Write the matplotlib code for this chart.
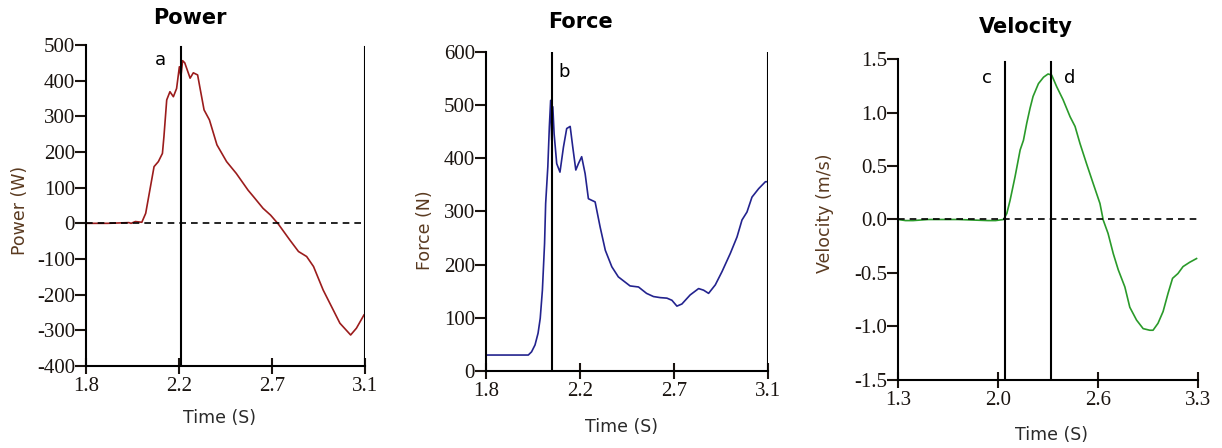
import matplotlib
matplotlib.use('Agg')
import matplotlib.pyplot as plt
import numpy as np

# Power curve (time s, watts)
power_t = [1.80, 1.90, 2.00, 2.01, 2.03, 2.06, 2.078, 2.106, 2.117, 2.137, 2.156, 2.163,
           2.176, 2.191, 2.207, 2.222, 2.235, 2.242, 2.25, 2.26, 2.285, 2.30, 2.32, 2.33,
           2.35, 2.375, 2.41, 2.455, 2.50, 2.555, 2.58, 2.625, 2.66, 2.696, 2.75, 2.79,
           2.828, 2.86, 2.905, 2.952, 2.983, 3.033, 3.06, 3.095]
power_w = [0, 0, 2, 0, 5, 3, 28, 122, 159, 173, 196, 243,
           346, 369, 355, 378, 439, 411, 456, 450, 407, 422, 416, 383,
           318, 290, 220, 173, 140, 93, 75, 42, 23, -2, -47, -79,
           -93, -121, -187, -243, -280, -313, -294, -257]

# Force curve (time s, newtons)
force_t = [1.80, 1.90, 1.995, 2.01, 2.026, 2.04, 2.05, 2.06, 2.07, 2.075, 2.085, 2.092,
           2.098, 2.103, 2.108, 2.114, 2.126, 2.141, 2.157, 2.172, 2.188, 2.20, 2.214,
           2.226, 2.241, 2.257, 2.272, 2.303, 2.326, 2.35, 2.38, 2.41, 2.464, 2.503,
           2.54, 2.572, 2.603, 2.634, 2.657, 2.68, 2.703, 2.741, 2.78, 2.803, 2.826,
           2.857, 2.888, 2.926, 2.957, 2.98, 3.003, 3.026, 3.057, 3.088, 3.10]
force_n = [30, 30, 30, 36, 49, 71, 99, 152, 240, 315, 384, 459,
           509, 434, 497, 446, 390, 374, 421, 456, 460, 421, 378,
           390, 403, 371, 324, 318, 271, 227, 196, 177, 160, 158,
           146, 140, 138, 137, 133, 122, 126, 143, 155, 152, 146,
           162, 187, 221, 252, 284, 299, 327, 343, 356, 356]

# Velocity curve (time s, m/s)
vel_t = [1.30, 1.35, 1.40, 1.50, 1.70, 1.90, 1.95, 2.003, 2.025, 2.047, 2.08, 2.114,
         2.136, 2.158, 2.18, 2.20, 2.236, 2.27, 2.30, 2.324, 2.358, 2.40, 2.447, 2.48,
         2.513, 2.557, 2.60, 2.646, 2.668, 2.70, 2.735, 2.768, 2.812, 2.845, 2.89,
         2.934, 2.978, 3.00, 3.033, 3.067, 3.10, 3.13, 3.166, 3.20, 3.244, 3.29]
vel_ms = [0.0, -0.01, -0.01, 0.0, 0.0, -0.01, -0.01, 0.0, 0.056, 0.18, 0.40, 0.65,
          0.74, 0.90, 1.04, 1.15, 1.27, 1.33, 1.36, 1.35, 1.24, 1.12, 0.96, 0.87,
          0.71, 0.52, 0.34, 0.15, -0.006, -0.13, -0.32, -0.47, -0.63, -0.82, -0.94,
          -1.02, -1.035, -1.035, -0.97, -0.86, -0.69, -0.55, -0.505, -0.44, -0.40, -0.365]

power_marks = [2.243, 3.1]
force_marks = [2.106, 3.1]
vel_marks = [2.01, 2.32]

serif = 'Liberation Serif'
label_col = '#5a3a20'


def style_axes(ax, xmin, xmax, ymin, ymax, yticks, yfmt):
    ax.set_xlim(xmin, xmax)
    ax.set_ylim(ymin, ymax)
    for s in ('top', 'right'):
        ax.spines[s].set_visible(False)
    for s in ('left', 'bottom'):
        ax.spines[s].set_linewidth(1.5)
    # four evenly spaced ticks, labels rounded to one decimal
    xt = np.linspace(xmin, xmax, 4)
    ax.set_xticks(xt)
    ax.set_xticklabels([f"{v:.1f}" for v in xt], fontfamily=serif, fontsize=15)
    ax.set_yticks(yticks)
    ax.set_yticklabels([yfmt(v) for v in yticks], fontfamily=serif, fontsize=15)
    ax.tick_params(axis='x', direction='inout', length=12, width=1.5, pad=2, colors='#1a1410')
    ax.tick_params(axis='y', direction='out', length=8, width=1.5, pad=0, colors='#1a1410')


fig = plt.figure(figsize=(12.22, 4.48), dpi=100)

# --- Power ---
ax1 = fig.add_axes([0.0704, 0.1830, 0.2283, 0.7166])
ax1.plot(power_t, power_w, color='#9b1c1c', lw=1.2)
ax1.axhline(0, color='black', ls=(0, (4, 3)), lw=1.2)
for m in power_marks:
    ax1.axvline(m, ymax=0.995, color='black', lw=1.5)
style_axes(ax1, 1.8, 3.1, -400, 500, list(range(-400, 501, 100)), lambda v: f"{v:d}")
ax1.text(160 / 1222, 1 - 60 / 448, 'a', transform=fig.transFigure, fontsize=13,
         ha='center', va='center')
ax1.set_ylabel('Power (W)', fontsize=12.5, color=label_col)
ax1.yaxis.set_label_coords(-0.237, 0.486)
ax1.yaxis.label.set_va('center')
ax1.set_xlabel('Time (S)', fontsize=12.5, color='#2a2a2a')
ax1.xaxis.set_label_coords(0.477, -0.162)
ax1.xaxis.label.set_va('center')
fig.text(190 / 1222, 1 - 18 / 448, 'Power', fontsize=15, fontweight='bold',
         ha='center', va='center')

# --- Force ---
ax2 = fig.add_axes([0.3977, 0.1719, 0.2308, 0.7121])
ax2.plot(force_t, force_n, color='#23238e', lw=1.2)
for m in force_marks:
    ax2.axvline(m, color='black', lw=1.5)
style_axes(ax2, 1.8, 3.1, 0, 600, list(range(0, 601, 100)), lambda v: f"{v:d}")
ax2.text(564 / 1222, 1 - 72 / 448, 'b', transform=fig.transFigure, fontsize=13,
         ha='center', va='center')
ax2.set_ylabel('Force (N)', fontsize=12.5, color=label_col)
ax2.yaxis.set_label_coords(-0.216, 0.44)
ax2.yaxis.label.set_va('center')
ax2.set_xlabel('Time (S)', fontsize=12.5, color='#2a2a2a')
ax2.xaxis.set_label_coords(0.482, -0.175)
ax2.xaxis.label.set_va('center')
fig.text(580 / 1222, 1 - 22 / 448, 'Force', fontsize=15, fontweight='bold',
         ha='center', va='center')

# --- Velocity ---
ax3 = fig.add_axes([0.7349, 0.1518, 0.2455, 0.7165])
ax3.plot(vel_t, vel_ms, color='#2a9a2a', lw=1.2)
ax3.plot([1.3, 3.29], [0, 0], color='black', ls=(0, (4, 3)), lw=1.2)
for m in vel_marks:
    ax3.axvline(m, ymax=0.99, color='black', lw=1.5)
style_axes(ax3, 1.3, 3.3, -1.5, 1.5, [-1.5, -1.0, -0.5, 0.0, 0.5, 1.0, 1.5],
           lambda v: f"{v:.1f}")
ax3.text(987 / 1222, 1 - 78 / 448, 'c', transform=fig.transFigure, fontsize=13,
         ha='center', va='center')
ax3.text(1070 / 1222, 1 - 78 / 448, 'd', transform=fig.transFigure, fontsize=13,
         ha='center', va='center')
ax3.set_ylabel('Velocity (m/s)', fontsize=12.5, color=label_col)
ax3.yaxis.set_label_coords(-0.243, 0.52)
ax3.yaxis.label.set_va('center')
ax3.set_xlabel('Time (S)', fontsize=12.5, color='#2a2a2a')
ax3.xaxis.set_label_coords(0.51, -0.171)
ax3.xaxis.label.set_va('center')
fig.text(1026 / 1222, 1 - 27 / 448, 'Velocity', fontsize=15, fontweight='bold',
         ha='center', va='center')

plt.savefig('out.png', dpi=100)
plt.close()
